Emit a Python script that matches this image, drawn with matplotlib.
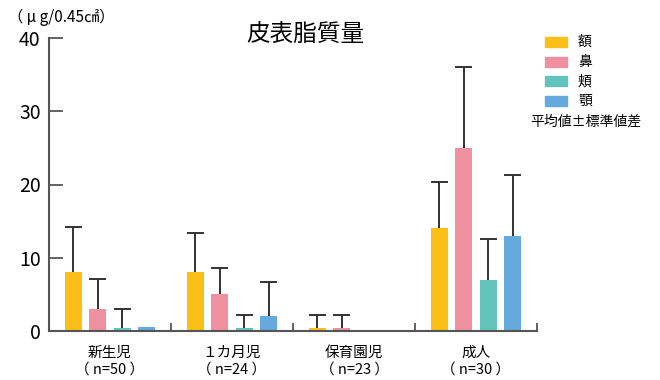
import matplotlib
matplotlib.use("Agg")
import matplotlib.pyplot as plt
import numpy as np

plt.rcParams['font.family'] = ['Noto Sans CJK JP', 'DejaVu Sans']

groups = ["新生児\n（ n=50 ）", "１カ月児\n（ n=24 ）", "保育園児\n（ n=23 ）", "成人\n（ n=30 ）"]
series = ["額", "鼻", "頬", "顎"]
colors = ["#FBBF17", "#EE909F", "#62C3BD", "#64AADC"]
means = {
    "額": [8, 8, 0.35, 14],
    "鼻": [3, 5, 0.35, 25],
    "頬": [0.35, 0.35, 0, 7],
    "顎": [0.6, 2, 0, 13],
}
sds = {
    "額": [6.2, 5.4, 1.8, 6.4],
    "鼻": [4.1, 3.6, 1.8, 11],
    "頬": [2.6, 1.8, 0, 5.5],
    "顎": [0, 4.7, 0, 8.3],
}
yticks = [0, 10, 20, 30, 40]

fig = plt.figure(figsize=(6.6, 3.8), dpi=100)
ax = fig.add_axes([49/660, 1-331/380, (537-49)/660, (331-38)/380])

x = np.arange(len(groups)) + 0.5
width = 0.14
step = 0.2
for i, s in enumerate(series):
    xi = x + (i - 1.5) * step
    m = np.array(means[s]); e = np.array(sds[s])
    ax.bar(xi, m, width=width, color=colors[i], zorder=2)
    mask = e > 0
    top = m[mask] + e[mask]
    ax.vlines(xi[mask], m[mask], top, color='#333333', lw=1.4, zorder=1)
    ax.hlines(top, xi[mask] - width / 2, xi[mask] + width / 2,
              color='#333333', lw=1.4, zorder=1)

ax.set_xlim(0, 4)
ax.set_ylim(0, 40)
ax.set_yticks(yticks)
ax.set_yticklabels([str(v) for v in yticks], fontsize=14)
ax.set_xticks([0, 1, 2, 3, 4])
ax.set_xticklabels([])
ax.tick_params(axis='y', direction='in', length=10, width=1.3, color='#555555', pad=6)
ax.tick_params(axis='x', direction='in', length=6, width=1.3, color='#555555')
for g, cx in zip(groups, x):
    ax.text(cx, -2.0, g, ha='center', va='top', fontsize=10.5, linespacing=1.25)
for sp in ['top', 'right']:
    ax.spines[sp].set_visible(False)
for sp in ['left', 'bottom']:
    ax.spines[sp].set_color('#555555')
    ax.spines[sp].set_linewidth(1.5)
    ax.spines[sp].set_zorder(3)

fig.text(305/660, 1-35/380, "皮表脂質量", ha='center', va='center', fontsize=17)
fig.text(8/660, 1-17/380, "（ μ g/0.45㎠）", ha='left', va='center', fontsize=11)

for i, s in enumerate(series):
    yc = 42 + i * 19.7
    fig.patches.append(plt.Rectangle((545/660, 1-(yc+5)/380), 22/660, 10/380,
                                     transform=fig.transFigure, color=colors[i]))
    fig.text(578/660, 1-yc/380, s, ha='left', va='center', fontsize=10)
fig.text(530/660, 1-122/380, "平均値±標準値差", ha='left', va='center', fontsize=10)

fig.savefig("out.png", dpi=100)
